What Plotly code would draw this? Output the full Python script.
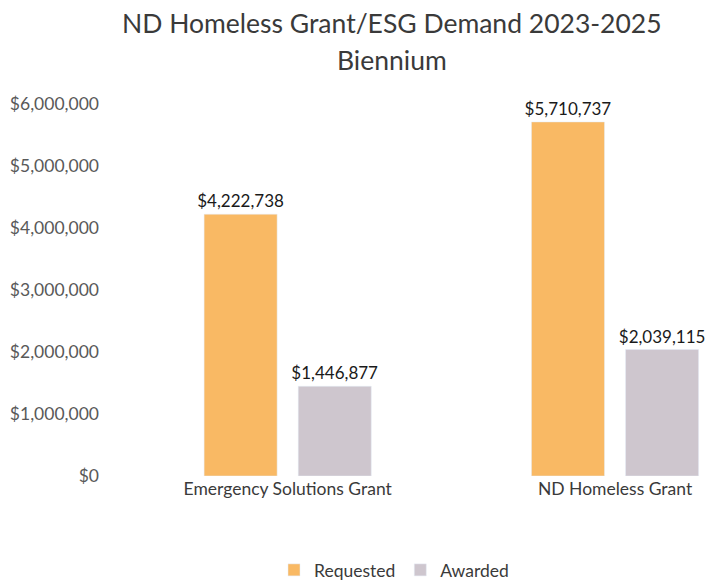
import plotly.graph_objects as go

categories = ["Emergency Solutions Grant", "ND Homeless Grant"]
requested = [4222738, 5710737]
awarded = [1446877, 2039115]
tick_vals = [0, 1000000, 2000000, 3000000, 4000000, 5000000, 6000000]
tick_text = ["$0", "$1,000,000", "$2,000,000", "$3,000,000", "$4,000,000", "$5,000,000", "$6,000,000"]
title_lines = ["ND Homeless Grant/ESG Demand 2023-2025", "Biennium"]

def money(v):
    return "${:,}".format(v)

font_family = "Lato, 'Open Sans', sans-serif"
W, H = 708, 582
L, T, B, R = 124, 104, 106, 0
plot_h = H - T - B

fig = go.Figure()
fig.add_trace(go.Bar(
    name="Requested", x=categories, y=requested,
    marker=dict(color="#F9B964"),
    text=[money(v) for v in requested], textposition="outside",
    textfont=dict(size=17, color="#1a1a1a", family=font_family),
    constraintext="none", cliponaxis=False,
))
fig.add_trace(go.Bar(
    name="Awarded", x=categories, y=awarded,
    marker=dict(color="#CEC6CE"),
    text=[money(v) for v in awarded], textposition="outside",
    textfont=dict(size=17, color="#1a1a1a", family=font_family),
    constraintext="none", cliponaxis=False,
))

for line, yfig in zip(title_lines, [23, 60]):
    fig.add_annotation(
        text=line, xref="paper", yref="paper",
        x=(392 - L) / (W - L - R), y=(H - B - yfig) / plot_h,
        xanchor="center", yanchor="middle", showarrow=False,
        font=dict(size=26.5, color="#3a3a3a", family=font_family),
    )

fig.update_layout(
    width=W, height=H,
    margin=dict(l=L, r=R, t=T, b=B),
    paper_bgcolor="white", plot_bgcolor="white",
    barmode="group", bargap=0.425, bargroupgap=0.224,
    font=dict(family=font_family, color="#595959", size=17),
    xaxis=dict(
        range=[-0.5, 1.284], showgrid=False, showline=False, zeroline=False,
        tickfont=dict(size=17.5, color="#3a3a3a"), ticks="", automargin=False,
    ),
    yaxis=dict(
        range=[0, 6000000], tickvals=tick_vals, ticktext=tick_text,
        showgrid=False, zeroline=False, showline=False, ticks="",
        tickfont=dict(size=17.5, color="#595959"), ticklabelstandoff=24,
        automargin=False,
    ),
    legend=dict(
        orientation="h", xref="container", x=394 / W, xanchor="center",
        yref="container", y=(H - 570) / H, yanchor="middle",
        font=dict(size=17.5, color="#3a3a3a"), itemwidth=30,
    ),
)

fig.write_html(
    "out.html",
    config={"displayModeBar": False},
    post_script="document.body.style.margin='0';document.body.style.overflow='hidden';",
)
